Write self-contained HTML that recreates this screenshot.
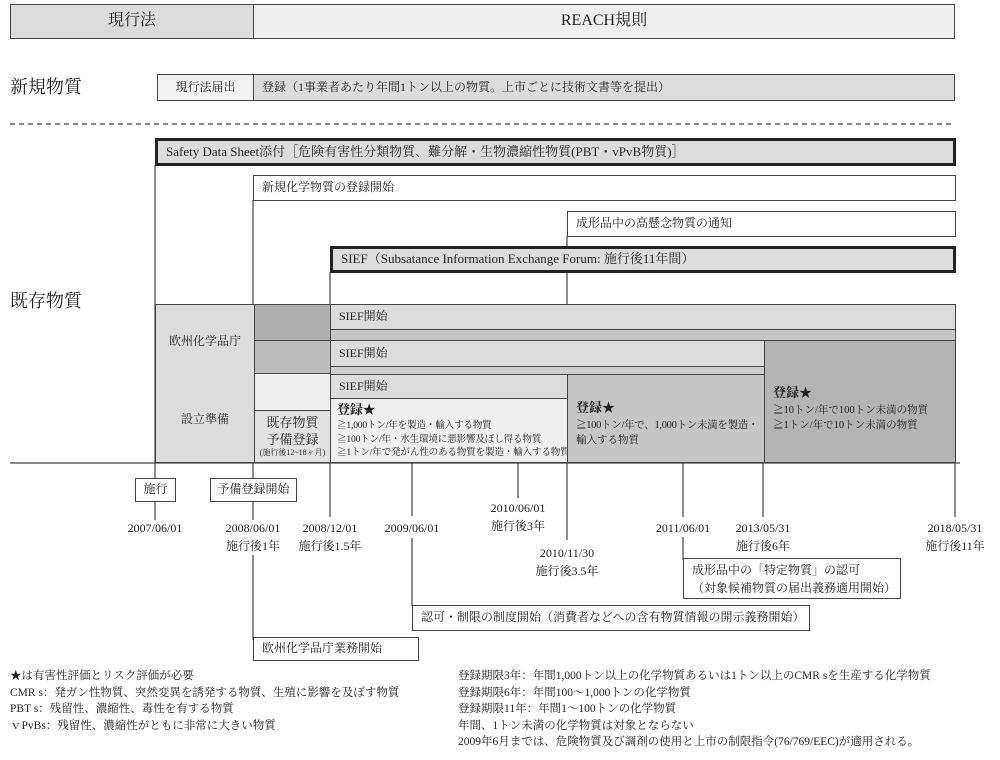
<!DOCTYPE html>
<html><head><meta charset="utf-8">
<style>
body{margin:0;background:#fff;}
#c{position:relative;width:1000px;height:760px;overflow:hidden;font-family:"Liberation Serif","Noto Serif CJK SC",serif;color:#222;}
.b{position:absolute;box-sizing:border-box;border:1px solid #444;font-size:12px;line-height:1.3;padding-left:8px;display:flex;align-items:center;white-space:nowrap;overflow:hidden;}
.t{position:absolute;font-size:12px;white-space:nowrap;line-height:18px;}
.c{text-align:center;transform:translateX(-50%);}
svg{position:absolute;left:0;top:0;}
</style></head><body><div id="c">
<svg width="1000" height="760">
<g stroke="#444" stroke-width="1.2" fill="none">
<line x1="155" y1="165" x2="155" y2="520"/>
<line x1="253" y1="200" x2="253" y2="520"/>
<line x1="253" y1="555" x2="253" y2="640"/>
<line x1="330" y1="272" x2="330" y2="517"/>
<line x1="567" y1="236" x2="567" y2="540"/>
<line x1="412" y1="462" x2="412" y2="516"/>
<line x1="412" y1="538" x2="412" y2="606"/>
<line x1="518" y1="462" x2="518" y2="498"/>
<line x1="683" y1="462" x2="683" y2="517"/>
<line x1="683" y1="537" x2="683" y2="560"/>
<line x1="763" y1="462" x2="763" y2="517"/>
<line x1="955" y1="462" x2="955" y2="517"/>
<line x1="10" y1="463" x2="960" y2="463"/>
<line x1="10" y1="124" x2="955" y2="124" stroke-dasharray="5,4"/>
</g></svg>
<div class="b" style="left:10px;top:4px;width:244px;height:35px;background:#dcdcdc;justify-content:center;font-size:16px;padding:0">現行法</div>
<div class="b" style="left:253px;top:4px;width:702px;height:35px;background:#efefef;justify-content:center;font-size:16px;padding:0">REACH規則</div>
<div class="t" style="left:10px;top:76px;font-size:18px;line-height:22px">新規物質</div>
<div class="b" style="left:157px;top:74px;width:97px;height:27px;background:#f2f2f2;justify-content:center;padding:0">現行法届出</div>
<div class="b" style="left:253px;top:74px;width:702px;height:27px;background:#dcdcdc">登録（1事業者あたり年間1トン以上の物質。上市ごとに技術文書等を提出）</div>
<div class="b" style="left:155px;top:138px;width:801px;height:28px;background:#dcdcdc;border:3px solid #222;font-size:13px">Safety Data Sheet添付［危険有害性分類物質、難分解・生物濃縮性物質(PBT・vPvB物質)］</div>
<div class="b" style="left:253px;top:175px;width:703px;height:26px;background:#fff">新規化学物質の登録開始</div>
<div class="b" style="left:567px;top:211px;width:389px;height:26px;background:#fff">成形品中の高懸念物質の通知</div>
<div class="b" style="left:330px;top:246px;width:626px;height:27px;background:#dcdcdc;border:3px solid #222;font-size:13px">SIEF（Subsatance Information Exchange Forum: 施行後11年間）</div>
<div class="t" style="left:10px;top:290px;font-size:18px;line-height:22px">既存物質</div>
<div class="b" style="left:155px;top:304px;width:100px;height:159px;background:#dcdcdc;padding:0"></div>
<div class="t c" style="left:205px;top:332px">欧州化学品庁</div>
<div class="t c" style="left:205px;top:410px">設立準備</div>
<div class="b" style="left:254px;top:304px;width:77px;height:37px;background:#afafaf"></div>
<div class="b" style="left:254px;top:340px;width:77px;height:34px;background:#bcbcbc"></div>
<div class="b" style="left:254px;top:373px;width:77px;height:38px;background:#efefef"></div>
<div class="b" style="left:254px;top:410px;width:77px;height:53px;background:#e2e2e2;padding:0;flex-direction:column;justify-content:center;line-height:1.25"><span style="font-size:13px">既存物質</span><span style="font-size:13px">予備登録</span><span style="font-size:8px">(施行後12~18ヶ月)</span></div>
<div class="b" style="left:330px;top:304px;width:626px;height:26px;background:#dcdcdc">SIEF開始</div>
<div class="b" style="left:330px;top:329px;width:626px;height:12px;background:#c6c6c6"></div>
<div class="b" style="left:764px;top:340px;width:192px;height:123px;background:#b4b4b4;flex-direction:column;align-items:flex-start;justify-content:center;padding-top:14px;padding-left:8px;font-size:10.5px;line-height:1.45">
<span style="font-size:13px;font-weight:bold">登録★</span><span>≧10トン/年で100トン未満の物質</span><span>≧1トン/年で10トン未満の物質</span></div>
<div class="b" style="left:330px;top:340px;width:435px;height:27px;background:#dcdcdc">SIEF開始</div>
<div class="b" style="left:330px;top:366px;width:435px;height:9px;background:#cfcfcf"></div>
<div class="b" style="left:567px;top:374px;width:198px;height:89px;background:#c6c6c6;flex-direction:column;align-items:flex-start;justify-content:center;padding-top:10px;padding-left:8px;font-size:10.5px;line-height:1.45">
<span style="font-size:13px;font-weight:bold">登録★</span><span style="letter-spacing:-0.3px">≧100トン/年で、1,000トン未満を製造・</span><span>輸入する物質</span></div>
<div class="b" style="left:330px;top:374px;width:238px;height:25px;background:#dcdcdc">SIEF開始</div>
<div class="b" style="left:330px;top:398px;width:238px;height:65px;background:#efefef;flex-direction:column;align-items:flex-start;justify-content:center;padding-left:6px;font-size:9.6px;line-height:1.4;letter-spacing:-0.2px">
<span style="font-size:13px;font-weight:bold">登録★</span><span>≧1,000トン/年を製造・輸入する物質</span><span>≧100トン/年・水生環境に悪影響及ぼし得る物質</span><span>≧1トン/年で発がん性のある物質を製造・輸入する物質</span></div>
<div class="b" style="left:135px;top:478px;width:41px;height:24px;background:#fff;justify-content:center;padding:0">施行</div>
<div class="b" style="left:210px;top:478px;width:87px;height:24px;background:#fff;justify-content:center;padding:0">予備登録開始</div>
<div class="t c" style="left:155px;top:519px">2007/06/01</div>
<div class="t c" style="left:253px;top:519px">2008/06/01<br>施行後1年</div>
<div class="t c" style="left:330px;top:519px">2008/12/01<br>施行後1.5年</div>
<div class="t c" style="left:412px;top:519px">2009/06/01</div>
<div class="t c" style="left:518px;top:499px">2010/06/01<br>施行後3年</div>
<div class="t c" style="left:567px;top:544px">2010/11/30<br>施行後3.5年</div>
<div class="t c" style="left:683px;top:519px">2011/06/01</div>
<div class="t c" style="left:763px;top:519px">2013/05/31<br>施行後6年</div>
<div class="t c" style="left:955px;top:519px">2018/05/31<br>施行後11年</div>
<div class="b" style="left:683px;top:558px;width:218px;height:41px;background:#fff;line-height:18px">成形品中の「特定物質」の認可<br>（対象候補物質の届出義務適用開始）</div>
<div class="b" style="left:412px;top:605px;width:398px;height:26px;background:#fff">認可・制限の制度開始（消費者などへの含有物質情報の開示義務開始）</div>
<div class="b" style="left:253px;top:637px;width:166px;height:24px;background:#fff">欧州化学品庁業務開始</div>
<div class="t" style="left:10px;top:668px;font-size:11.5px;line-height:16.5px">★は有害性評価とリスク評価が必要<br>CMR s：発ガン性物質、突然変異を誘発する物質、生殖に影響を及ぼす物質<br>PBT s：残留性、濃縮性、毒性を有する物質<br>ｖPvBs：残留性、濃縮性がともに非常に大きい物質</div>
<div class="t" style="left:458px;top:668px;font-size:11.5px;line-height:16.5px">登録期限3年：年間1,000トン以上の化学物質あるいは1トン以上のCMR sを生産する化学物質<br>登録期限6年：年間100～1,000トンの化学物質<br>登録期限11年：年間1～100トンの化学物質<br>年間、1トン未満の化学物質は対象とならない<br>2009年6月までは、危険物質及び調剤の使用と上市の制限指令(76/769/EEC)が適用される。</div>
</div></body></html>
